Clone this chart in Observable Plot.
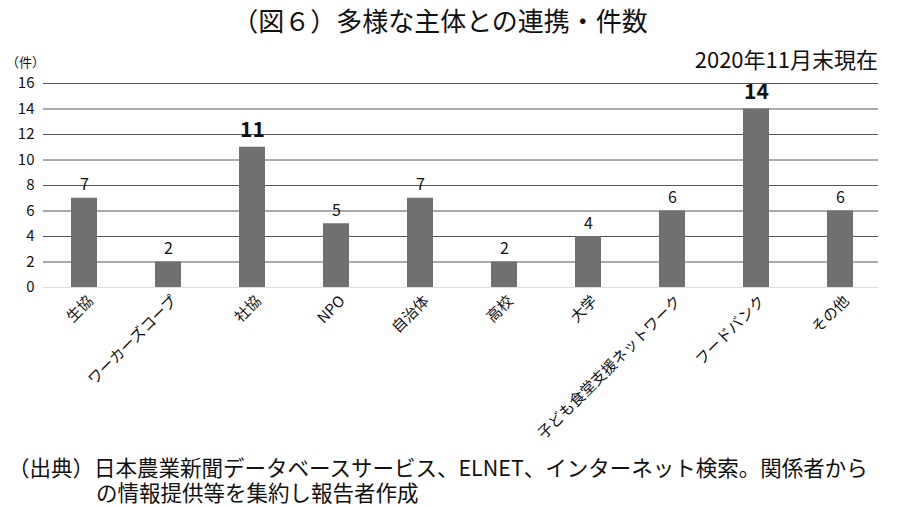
<!DOCTYPE html>
<html><head><meta charset="utf-8">
<script src="https://cdn.jsdelivr.net/npm/d3@7"></script>
<script src="https://cdn.jsdelivr.net/npm/@observablehq/plot@0.6"></script>
<style>
body{margin:0;background:#fff;font-family:"Noto Sans CJK JP","Noto Sans",sans-serif;}
#wrap{position:relative;width:901px;height:507px;overflow:hidden;}
#title{position:absolute;left:0;width:880px;top:4px;text-align:center;font-size:26px;color:#111;line-height:32px;}
#date{position:absolute;right:23px;top:44px;font-size:22px;color:#111;line-height:28px;}
#unit{position:absolute;left:6px;top:54px;font-size:13px;color:#111;line-height:16px;}
#chart{position:absolute;left:0;top:40px;}
#cap{position:absolute;left:8px;top:454px;font-size:21.5px;color:#111;line-height:25px;white-space:nowrap;}
#cap div:nth-child(2){padding-left:88px;}
</style></head>
<body><div id="wrap">
<div id="title">（図６）多様な主体との連携・件数</div>
<div id="date">2020年11月末現在</div>
<div id="unit">（件）</div>
<div id="chart"></div>
<div id="cap"><div>（出典）日本農業新聞データベースサービス、ELNET、インターネット検索。関係者から</div><div>の情報提供等を集約し報告者作成</div></div>
</div>
<script>
const categories = ["生協","ワーカーズコープ","社協","NPO","自治体","高校","大学","子ども食堂支援ネットワーク","フードバンク","その他"];
const counts = [7,2,11,5,7,2,4,6,14,6];
const emphasized = ["社協","フードバンク"];
const yTicks = [0,2,4,6,8,10,12,14,16];

const data = categories.map((c,i)=>({cat:c, n:counts[i]}));
const normal = data.filter(d=>!emphasized.includes(d.cat));
const strong = data.filter(d=>emphasized.includes(d.cat));

const chart = Plot.plot({
  width: 901,
  height: 412,
  marginTop: 43,
  marginBottom: 165,
  marginLeft: 39,
  marginRight: 16,
  style: {fontFamily: '"Noto Sans CJK JP","Noto Sans",sans-serif', background: "transparent"},
  x: {type: "band", domain: categories, paddingInner: 0.69, paddingOuter: 0.345, label: null},
  y: {domain: [0,16], label: null},
  marks: [
    Plot.ruleY(yTicks.filter(t=>t>0), {stroke: "#555", strokeWidth: 1, insetLeft: 4, insetRight: 7}),
    Plot.ruleY([0], {stroke: "#ddd", strokeWidth: 1, insetLeft: 4, insetRight: 7}),
    Plot.barY(data, {x: "cat", y: "n", fill: "#707070"}),
    Plot.text(normal, {x: "cat", y: "n", text: d=>String(d.n), dy: -13, fontSize: 16, fill: "#111"}),
    Plot.text(strong, {x: "cat", y: "n", text: d=>String(d.n), dy: -17, fontSize: 21, fontWeight: "bold", fill: "#111"}),
    Plot.axisY({ticks: yTicks, tickSize: 0, tickPadding: 5, fontSize: 15, fill: "#111", label: null}),
    Plot.axisX({tickSize: 0, tickPadding: 11, tickRotate: -45, dx: 6, fontSize: 15, fill: "#111", label: null})
  ]
});
document.getElementById("chart").appendChild(chart);
</script>
</body></html>
